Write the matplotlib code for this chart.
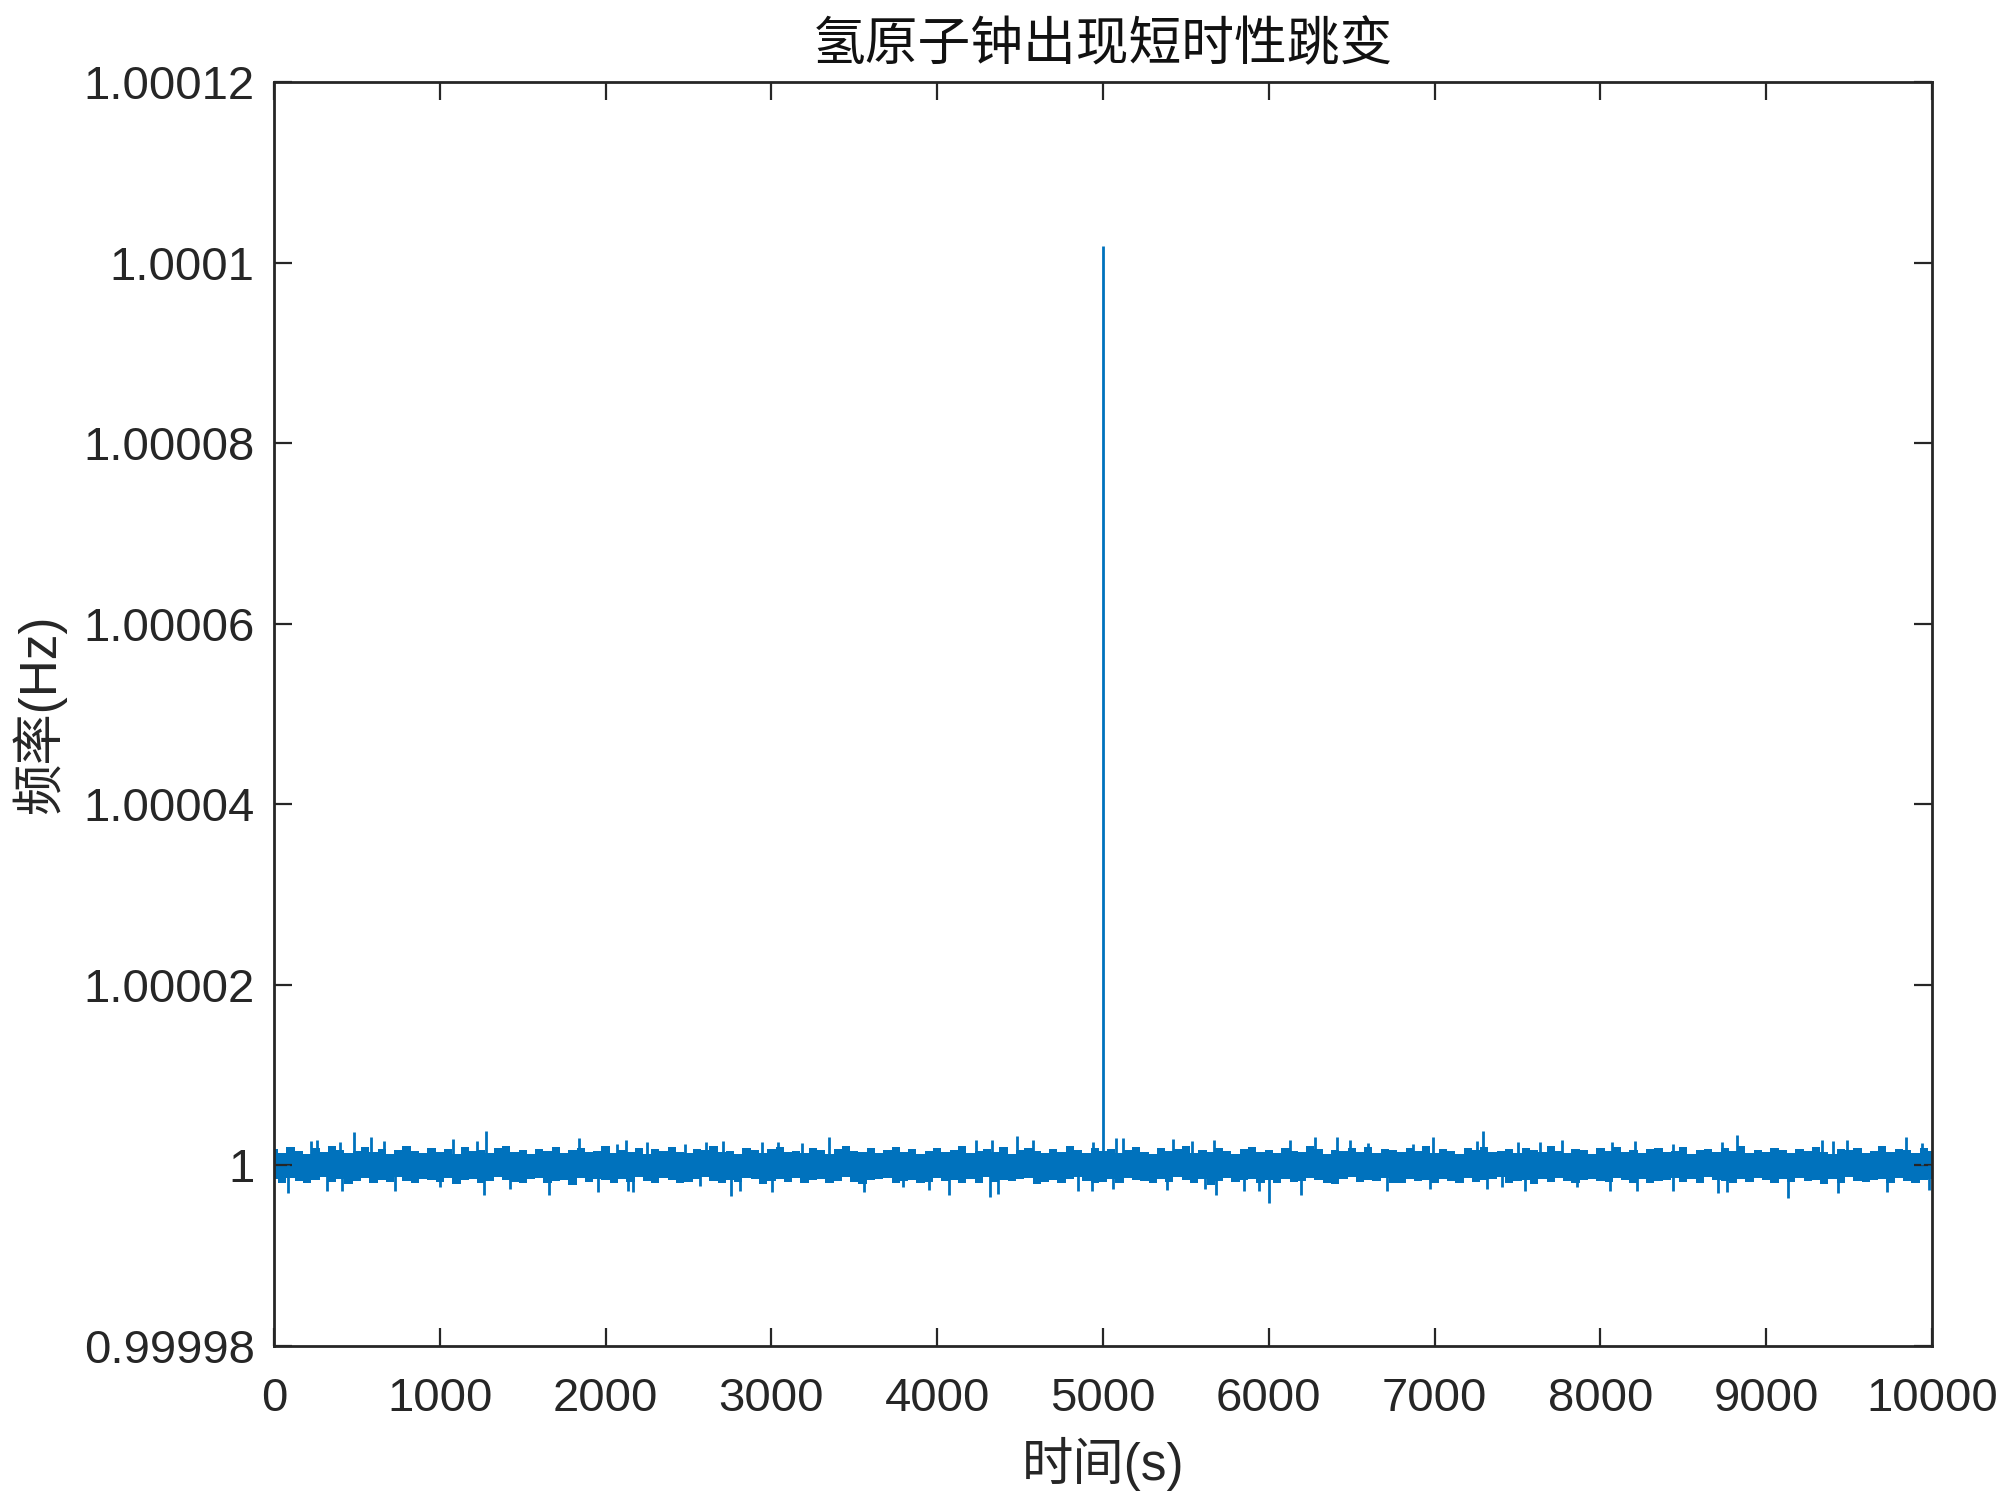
import numpy as np
import matplotlib
matplotlib.use("Agg")
import matplotlib.pyplot as plt

# Hydrogen clock frequency with a short jump at t = 5000 s
# offsets are in micro-Hz (1e-6 Hz) around the nominal 1 Hz

# edges of the dense core band, one value every 50 s (0 ... 10000)
env_t = np.arange(0, 10001, 50)
env_hi = [1.8, 1.4, 2.0, 1.6, 1.3, 1.9, 1.5, 2.1, 1.7, 1.4, 1.6, 2.0, 1.5, 1.8, 1.3, 1.7, 2.1, 1.6, 1.4, 1.9,
          1.5, 1.8, 1.3, 2.0, 1.6, 1.7, 1.4, 1.9, 2.2, 1.5, 1.7, 1.3, 1.8, 1.6, 2.0, 1.4, 1.7, 1.9, 1.5, 1.6,
          2.1, 1.4, 1.7, 1.5, 1.9, 1.3, 1.8, 1.6, 2.0, 1.5, 1.4, 1.8, 1.7, 2.1, 1.5, 1.6, 1.3, 1.9, 1.7, 1.4,
          1.8, 2.0, 1.5, 1.6, 1.4, 1.9, 1.7, 1.3, 1.8, 2.1, 1.6, 1.5, 1.9, 1.4, 1.7, 2.0, 1.5, 1.8, 1.3, 1.6,
          1.9, 1.5, 1.7, 2.2, 1.4, 1.6, 1.8, 1.5, 2.0, 1.3, 1.7, 1.9, 1.6, 1.4, 1.8, 1.5, 2.1, 1.7, 1.4, 1.9,
          1.6, 1.8, 1.4, 1.7, 2.0, 1.5, 1.3, 1.9, 1.6, 1.8, 2.1, 1.4, 1.7, 1.5, 1.9, 1.6, 1.3, 1.8, 2.0, 1.5,
          1.7, 1.4, 1.9, 1.6, 1.5, 2.1, 1.8, 1.3, 1.7, 1.6, 1.9, 1.5, 2.0, 1.4, 1.8, 1.7, 1.5, 1.9, 1.6, 2.2,
          1.4, 1.8, 1.6, 1.3, 1.9, 1.7, 2.0, 1.5, 1.6, 1.8, 1.4, 1.9, 1.7, 1.5, 2.1, 1.6, 1.4, 1.8, 1.7, 1.3,
          1.9, 1.6, 2.0, 1.5, 1.7, 1.4, 1.8, 1.9, 1.5, 1.6, 2.0, 1.3, 1.7, 1.8, 1.5, 1.9, 1.6, 2.1, 1.4, 1.7,
          1.5, 1.9, 1.7, 1.4, 1.8, 1.6, 2.0, 1.5, 1.3, 1.8, 1.7, 1.9, 1.4, 1.6, 2.1, 1.5, 1.8, 1.7, 1.4, 1.9,
          1.6]
env_lo = [1.5, 1.9, 1.4, 1.7, 2.0, 1.6, 1.3, 1.8, 1.5, 2.1, 1.7, 1.4, 1.9, 1.6, 1.8, 1.3, 1.7, 2.0, 1.5, 1.6,
          1.8, 1.4, 2.1, 1.6, 1.5, 1.9, 1.7, 1.3, 1.6, 1.8, 2.0, 1.5, 1.4, 1.9, 1.7, 1.6, 2.2, 1.4, 1.8, 1.5,
          1.6, 1.9, 1.5, 1.8, 1.3, 1.7, 2.0, 1.4, 1.6, 1.9, 1.8, 1.5, 1.3, 1.7, 2.0, 1.6, 1.8, 1.4, 1.5, 2.1,
          1.7, 1.5, 1.8, 1.4, 2.0, 1.6, 1.5, 1.9, 1.7, 1.3, 1.8, 2.1, 1.6, 1.5, 1.4, 1.9, 1.7, 1.6, 2.0, 1.8,
          1.4, 1.7, 1.6, 1.9, 1.5, 2.0, 1.3, 1.8, 1.6, 1.7, 1.5, 1.4, 2.1, 1.8, 1.6, 1.9, 1.5, 1.3, 1.7, 2.0,
          1.8, 1.5, 1.9, 1.4, 1.6, 1.7, 2.0, 1.5, 1.8, 1.3, 1.6, 1.9, 1.5, 2.2, 1.7, 1.4, 1.8, 1.6, 1.5, 1.9,
          1.6, 2.0, 1.5, 1.8, 1.7, 1.4, 1.6, 1.9, 2.1, 1.5, 1.3, 1.8, 1.6, 1.7, 1.4, 2.0, 1.9, 1.5, 1.7, 1.6,
          1.9, 1.5, 1.7, 2.0, 1.4, 1.8, 1.6, 1.5, 1.3, 1.9, 1.7, 1.6, 2.1, 1.5, 1.8, 1.4, 1.7, 1.9, 1.6, 1.5,
          1.7, 1.8, 1.4, 1.6, 1.9, 1.5, 2.0, 1.7, 1.6, 1.4, 1.8, 1.5, 1.9, 1.3, 1.6, 1.7, 2.0, 1.5, 1.8, 1.4,
          1.6, 1.9, 1.5, 1.8, 1.4, 1.7, 1.6, 2.1, 1.5, 1.9, 1.3, 1.7, 1.8, 1.6, 1.5, 2.0, 1.4, 1.7, 1.9, 1.6,
          1.5]

# upward excursions (time s, offset uHz)
up_t = [225, 257, 398, 485, 585, 665, 1081, 1223, 1279, 1842,
        2066, 2123, 2248, 2480, 2606, 2710, 2941, 3042, 3182, 3349,
        4234, 4329, 4479, 4580, 4942, 5079, 5123, 5425, 5535, 5670,
        6128, 6279, 6409, 6489, 6600, 6872, 6988, 7254, 7294, 7506,
        7636, 7767, 8068, 8209, 8440, 8731, 8822, 9334, 9405, 9485,
        9843, 9938]
up_v = [2.7, 2.8, 2.6, 3.7, 3.2, 2.7, 2.9, 2.7, 3.8, 3.0,
        2.4, 2.8, 2.6, 2.4, 2.6, 2.7, 2.6, 2.6, 2.5, 3.1,
        2.8, 2.8, 3.3, 2.8, 2.6, 3.0, 3.0, 2.9, 2.7, 2.8,
        2.8, 3.1, 3.1, 2.8, 2.5, 2.4, 3.2, 2.7, 3.8, 2.6,
        2.6, 2.8, 2.6, 2.7, 2.4, 2.6, 3.4, 2.8, 2.7, 2.8,
        3.1, 2.5]

# downward excursions (time s, offset magnitude uHz)
dn_t = [86, 318, 412, 730, 1000, 1267, 1423, 1661, 1956, 2137,
        2167, 2570, 2754, 2810, 3002, 3559, 3796, 3953, 4073, 4318,
        4368, 4851, 4932, 5062, 5388, 5616, 5681, 5850, 5943, 6001,
        6192, 6711, 6972, 7315, 7404, 7546, 7857, 8058, 8223, 8436,
        8712, 8762, 9133, 9435, 9727, 9984]
dn_v = [3.1, 2.8, 2.8, 2.8, 2.4, 3.3, 2.6, 3.3, 2.9, 2.8,
        2.9, 2.3, 3.4, 2.8, 2.9, 2.9, 2.4, 2.7, 3.3, 3.5,
        3.2, 2.8, 2.8, 2.6, 2.7, 2.6, 3.3, 2.8, 2.8, 4.2,
        3.3, 2.8, 2.6, 2.6, 2.4, 2.8, 2.4, 2.8, 2.8, 2.8,
        3.1, 3.0, 3.6, 3.1, 3.0, 2.7]

# the jump
jump_t = 5000
jump_f = 1.0001018

y_ticks = [0.99998, 1.0, 1.00002, 1.00004, 1.00006, 1.00008, 1.0001, 1.00012]
y_labels = ['0.99998', '1', '1.00002', '1.00004', '1.00006', '1.00008', '1.0001', '1.00012']
x_ticks = list(range(0, 10001, 1000))

blue = '#0072BD'
dark = '#262626'
u = 1e-6

plt.rcParams['font.family'] = ['Liberation Sans', 'Noto Sans CJK SC', 'DejaVu Sans']

fig = plt.figure(figsize=(10, 7.5), dpi=200)
ax = fig.add_axes([0.137, 0.1027, 0.829, 0.8426])

# dense noise band, then the single excursions on top of it
ax.fill_between(env_t, 1 - np.array(env_lo) * u, 1 + np.array(env_hi) * u,
                step='mid', color=blue, linewidth=0)
ax.vlines(up_t, 1.0, 1 + np.array(up_v) * u, color=blue, linewidth=1.0)
ax.vlines(dn_t, 1 - np.array(dn_v) * u, 1.0, color=blue, linewidth=1.0)
ax.vlines(jump_t, 1.0, jump_f, color=blue, linewidth=1.0)

ax.set_xlim(0, 10000)
ax.set_ylim(0.99998, 1.00012)
ax.set_xticks(x_ticks)
ax.set_xticklabels([str(t) for t in x_ticks])
ax.set_yticks(y_ticks)
ax.set_yticklabels(y_labels)

ax.tick_params(direction='in', length=6.5, width=0.8, color=dark, labelcolor=dark,
               labelsize=17, top=True, right=True)
ax.tick_params(axis='x', pad=11)
ax.tick_params(axis='y', pad=7)
for s in ax.spines.values():
    s.set_color(dark)
    s.set_linewidth(1.0)

ax.set_xlabel('时间(s)', fontsize=18.5, color=dark, labelpad=6)
ax.set_ylabel('频率(Hz)', fontsize=18.5, color=dark, labelpad=6)
ax.set_title('氢原子钟出现短时性跳变', fontsize=19, color='#111111', pad=8,
             family=['Noto Sans CJK SC', 'DejaVu Sans'])

fig.savefig('out.png', dpi=200, facecolor='white')
